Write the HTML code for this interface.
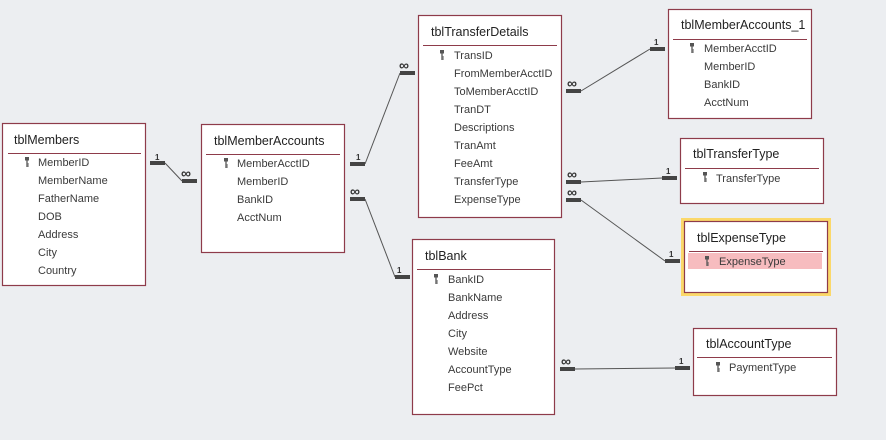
<!DOCTYPE html>
<html><head><meta charset="utf-8"><style>
html,body{margin:0;padding:0;background:#eceef1;}
svg{display:block;font-family:"Liberation Sans",sans-serif;}
.t{font-size:12.5px;fill:#222;}
.f{font-size:11px;fill:#3a3a3a;}
.b{fill:#fff;stroke:#8e3b4a;stroke-width:1.2;}
.s{stroke:#8e3b4a;stroke-width:1;}
.l{stroke:#555;stroke-width:1;fill:none;}
.k{stroke:#444;stroke-width:4;}
.n{font-size:8px;font-weight:bold;fill:#333;}
.i{font-size:14px;font-weight:bold;fill:#333;}
</style></head><body>
<svg width="886" height="440" viewBox="0 0 886 440">
<defs>
<g id="key"><rect x="-2" y="-5" width="4" height="3.5" fill="#555"/><line x1="0" y1="-2" x2="0" y2="5" stroke="#555" stroke-width="1.3"/><line x1="0" y1="2" x2="2" y2="2" stroke="#555"/><line x1="0" y1="4" x2="2" y2="4" stroke="#555"/></g>
</defs>

<line class="l" x1="165" y1="163" x2="182" y2="181"/>
<line class="k" x1="150" y1="163" x2="165" y2="163"/><line class="k" x1="182" y1="181" x2="197" y2="181"/>
<text class="n" x="155" y="160">1</text><text class="i" x="181" y="178">∞</text>

<line class="l" x1="365" y1="164" x2="400" y2="73"/>
<line class="k" x1="350" y1="164" x2="365" y2="164"/><line class="k" x1="400" y1="73" x2="415" y2="73"/>
<text class="n" x="356" y="160">1</text><text class="i" x="399" y="70">∞</text>

<line class="l" x1="365" y1="199" x2="395" y2="277"/>
<line class="k" x1="350" y1="199" x2="365" y2="199"/><line class="k" x1="395" y1="277" x2="410" y2="277"/>
<text class="i" x="350" y="196">∞</text><text class="n" x="397" y="273">1</text>

<line class="l" x1="581" y1="91" x2="650" y2="49"/>
<line class="k" x1="566" y1="91" x2="581" y2="91"/><line class="k" x1="650" y1="49" x2="665" y2="49"/>
<text class="i" x="567" y="88">∞</text><text class="n" x="654" y="45">1</text>

<line class="l" x1="581" y1="182" x2="662" y2="178"/>
<line class="k" x1="566" y1="182" x2="581" y2="182"/><line class="k" x1="662" y1="178" x2="677" y2="178"/>
<text class="i" x="567" y="179">∞</text><text class="n" x="666" y="174">1</text>

<line class="l" x1="581" y1="200" x2="665" y2="261"/>
<line class="k" x1="566" y1="200" x2="581" y2="200"/><line class="k" x1="665" y1="261" x2="680" y2="261"/>
<text class="i" x="567" y="197">∞</text><text class="n" x="669" y="257">1</text>

<line class="l" x1="575" y1="369" x2="675" y2="368"/>
<line class="k" x1="560" y1="369" x2="575" y2="369"/><line class="k" x1="675" y1="368" x2="690" y2="368"/>
<text class="i" x="561" y="366">∞</text><text class="n" x="679" y="364">1</text>

<rect class="b" x="2.5" y="123.5" width="143" height="162"/>
<text class="t" x="14" y="144">tblMembers</text>
<line class="s" x1="8" y1="153.5" x2="141" y2="153.5"/>
<use href="#key" x="27" y="162"/>
<g class="f"><text x="38" y="166">MemberID</text><text x="38" y="184">MemberName</text><text x="38" y="202">FatherName</text><text x="38" y="220">DOB</text><text x="38" y="238">Address</text><text x="38" y="256">City</text><text x="38" y="274">Country</text></g>

<rect class="b" x="201.5" y="124.5" width="143" height="128"/>
<text class="t" x="214" y="145">tblMemberAccounts</text>
<line class="s" x1="206" y1="154.5" x2="340" y2="154.5"/>
<use href="#key" x="226" y="163"/>
<g class="f"><text x="237" y="167">MemberAcctID</text><text x="237" y="185">MemberID</text><text x="237" y="203">BankID</text><text x="237" y="221">AcctNum</text></g>

<rect class="b" x="418.5" y="15.5" width="143" height="202"/>
<text class="t" x="431" y="36">tblTransferDetails</text>
<line class="s" x1="423" y1="45.5" x2="557" y2="45.5"/>
<use href="#key" x="442" y="55"/>
<g class="f"><text x="454" y="59">TransID</text><text x="454" y="77">FromMemberAcctID</text><text x="454" y="95">ToMemberAcctID</text><text x="454" y="113">TranDT</text><text x="454" y="131">Descriptions</text><text x="454" y="149">TranAmt</text><text x="454" y="167">FeeAmt</text><text x="454" y="185">TransferType</text><text x="454" y="203">ExpenseType</text></g>

<rect class="b" x="668.5" y="9.5" width="143" height="109"/>
<text class="t" x="681" y="29">tblMemberAccounts_1</text>
<line class="s" x1="673" y1="39.5" x2="807" y2="39.5"/>
<use href="#key" x="692" y="48"/>
<g class="f"><text x="704" y="52">MemberAcctID</text><text x="704" y="70">MemberID</text><text x="704" y="88">BankID</text><text x="704" y="106">AcctNum</text></g>

<rect class="b" x="680.5" y="138.5" width="143" height="65"/>
<text class="t" x="693" y="158">tblTransferType</text>
<line class="s" x1="685" y1="168.5" x2="819" y2="168.5"/>
<use href="#key" x="705" y="177"/>
<g class="f"><text x="716" y="182">TransferType</text></g>

<rect x="681" y="218" width="150" height="78" fill="#fbd86a"/>
<rect class="b" x="684.5" y="221.5" width="143" height="71"/>
<text class="t" x="697" y="242">tblExpenseType</text>
<line class="s" x1="689" y1="251.5" x2="823" y2="251.5"/>
<rect x="688" y="253" width="134" height="16" fill="#f7bcbf"/>
<use href="#key" x="707" y="261"/>
<g class="f"><text x="719" y="265">ExpenseType</text></g>

<rect class="b" x="412.5" y="239.5" width="142" height="175"/>
<text class="t" x="425" y="260">tblBank</text>
<line class="s" x1="417" y1="269.5" x2="551" y2="269.5"/>
<use href="#key" x="436" y="279"/>
<g class="f"><text x="448" y="283">BankID</text><text x="448" y="301">BankName</text><text x="448" y="319">Address</text><text x="448" y="337">City</text><text x="448" y="355">Website</text><text x="448" y="373">AccountType</text><text x="448" y="391">FeePct</text></g>

<rect class="b" x="693.5" y="328.5" width="143" height="67"/>
<text class="t" x="706" y="348">tblAccountType</text>
<line class="s" x1="697" y1="357.5" x2="832" y2="357.5"/>
<use href="#key" x="718" y="367"/>
<g class="f"><text x="729" y="371">PaymentType</text></g>
</svg>
</body></html>
